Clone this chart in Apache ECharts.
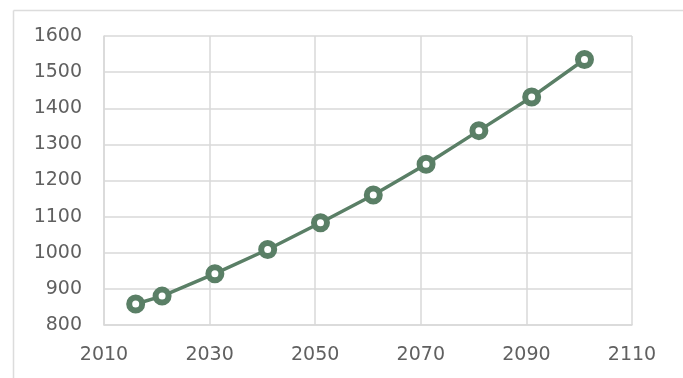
<!DOCTYPE html>
<html>
<head>
<meta charset="utf-8">
<script src="https://cdn.jsdelivr.net/npm/echarts@6/dist/echarts.min.js"></script>
<style>
  html, body { margin: 0; padding: 0; background: #ffffff; overflow: hidden; }
  #chart { width: 683px; height: 378px; }
</style>
</head>
<body>
<div id="chart"></div>
<script>
// Projected values by year
const years  = [2016, 2021, 2031, 2041, 2051, 2061, 2071, 2081, 2091, 2101];
const values = [858, 880, 942, 1009, 1083, 1160, 1245, 1338, 1431, 1535];

const lineColor = '#5a7f66';
const gridColor = '#d9d9d9';
const labelColor = '#606060';
const frameColor = '#dcdcdc';

const chart = echarts.init(document.getElementById('chart'), null, { renderer: 'canvas' });

const plainNumber = v => String(v);

chart.setOption({
  animation: false,
  backgroundColor: '#ffffff',
  // outer frame: left and top edges only
  graphic: [
    {
      type: 'line',
      shape: { x1: 13.5, y1: 10.5, x2: 683, y2: 10.5 },
      style: { stroke: frameColor, lineWidth: 1.5 },
      silent: true
    },
    {
      type: 'line',
      shape: { x1: 13.5, y1: 10.5, x2: 13.5, y2: 378 },
      style: { stroke: frameColor, lineWidth: 1.5 },
      silent: true
    }
  ],
  grid: { left: 104, right: 51, top: 36, bottom: 53, containLabel: false },
  xAxis: {
    type: 'value',
    min: 2010,
    max: 2110,
    interval: 20,
    axisLine: { show: true, lineStyle: { color: gridColor, width: 1.5 } },
    axisTick: { show: false },
    splitLine: { show: true, lineStyle: { color: gridColor, width: 1.5 } },
    axisLabel: {
      margin: 21,
      color: labelColor,
      fontFamily: 'DejaVu Sans',
      fontSize: 19,
      formatter: plainNumber
    }
  },
  yAxis: {
    type: 'value',
    min: 800,
    max: 1600,
    interval: 100,
    axisLine: { show: true, lineStyle: { color: gridColor, width: 1.5 } },
    axisTick: { show: false },
    splitLine: { show: true, lineStyle: { color: gridColor, width: 1.5 } },
    axisLabel: {
      margin: 22,
      color: labelColor,
      fontFamily: 'DejaVu Sans',
      fontSize: 19,
      formatter: plainNumber
    }
  },
  series: [{
    type: 'line',
    data: years.map((y, i) => [y, values[i]]),
    lineStyle: { color: lineColor, width: 3.5 },
    symbol: 'circle',
    symbolSize: 13,
    itemStyle: { color: '#ffffff', borderColor: lineColor, borderWidth: 6 }
  }]
});
</script>
</body>
</html>
